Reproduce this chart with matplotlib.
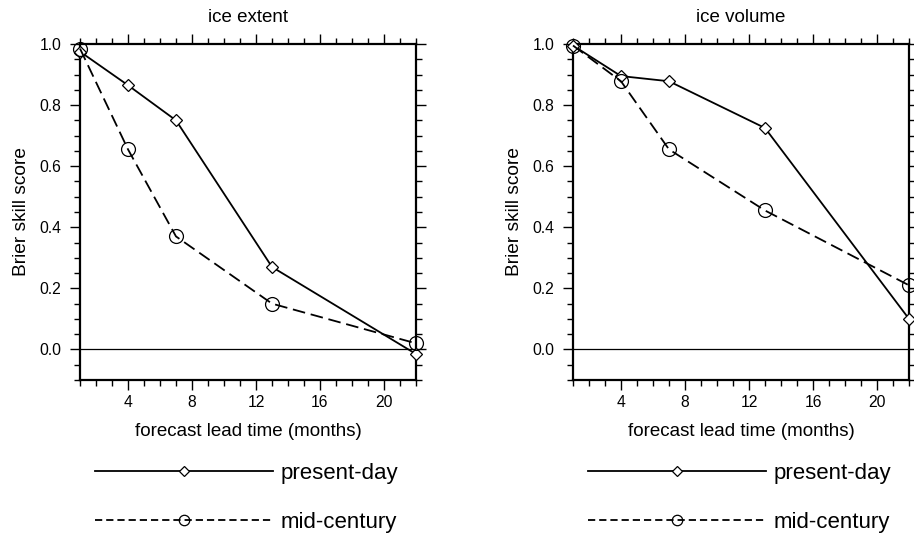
import matplotlib
matplotlib.use("Agg")
import matplotlib.pyplot as plt
from matplotlib.ticker import MultipleLocator, FixedLocator

plt.rcParams['font.family'] = ['Liberation Sans', 'DejaVu Sans']

lead_months = [1, 4, 7, 13, 22]
extent_present = [0.975, 0.865, 0.75, 0.27, -0.015]
extent_mid = [0.985, 0.655, 0.37, 0.15, 0.02]
volume_present = [0.995, 0.895, 0.878, 0.725, 0.10]
volume_mid = [0.995, 0.878, 0.655, 0.455, 0.21]

titles = ["ice extent", "ice volume"]
series_labels = ["present-day", "mid-century"]
x_ticks = [4, 8, 12, 16, 20]
y_ticks = [0.0, 0.2, 0.4, 0.6, 0.8, 1.0]

W, H = 914, 534
fig = plt.figure(figsize=(W / 100, H / 100), dpi=100)

panels = [
    (80, extent_present, extent_mid),
    (573, volume_present, volume_mid),
]

for i, (left_px, pres, mid) in enumerate(panels):
    ax = fig.add_axes([left_px / W, (H - 380) / H, 336 / W, 336 / H])
    ax.axhline(0, color='black', lw=0.9, zorder=1)
    l1, = ax.plot(lead_months, pres, color='black', lw=1.3, marker='D',
                  markersize=6.5, markerfacecolor='white', markeredgecolor='black',
                  markeredgewidth=0.9, clip_on=False, zorder=3)
    l2, = ax.plot(lead_months, mid, color='black', lw=1.3, ls=(0, (7.0, 3.2)),
                  marker='o', markersize=10, markerfacecolor='none',
                  markeredgecolor='black', markeredgewidth=0.9, clip_on=False, zorder=3)
    ax.set_xlim(1, 22)
    ax.set_ylim(-0.1, 1.0)
    ax.xaxis.set_major_locator(FixedLocator(x_ticks))
    ax.xaxis.set_minor_locator(MultipleLocator(1))
    ax.yaxis.set_major_locator(FixedLocator(y_ticks))
    ax.yaxis.set_minor_locator(MultipleLocator(0.05))
    ax.set_xticklabels([str(t) for t in x_ticks])
    ax.set_yticklabels([f"{t:.1f}" for t in y_ticks])
    ax.tick_params(which='both', direction='out', top=True, right=True,
                   labeltop=False, labelright=False, width=1.0, labelsize=11.3)
    ax.tick_params(which='major', length=7)
    ax.tick_params(which='minor', length=4)
    ax.tick_params(axis='y', which='major', pad=6.5)
    ax.tick_params(axis='x', which='major', pad=4)
    for s in ax.spines.values():
        s.set_linewidth(1.6)
    ax.set_title(titles[i], fontsize=13.5, pad=16)
    ax.set_xlabel("forecast lead time (months)", fontsize=13.5, labelpad=9)
    ax.set_ylabel("Brier skill score", fontsize=13.8, labelpad=7)

    leg = fig.legend([l1, l2], series_labels, loc='upper left',
                     bbox_to_anchor=((left_px + 15) / W, (H - 463) / H),
                     frameon=False, fontsize=16, handlelength=8.0,
                     handletextpad=0.35, labelspacing=1.25, borderpad=0,
                     borderaxespad=0, numpoints=1, markerscale=0.75)
    leg_lines = leg.get_lines()
    for line in leg_lines:
        line.set_linewidth(1.3)
    leg_lines[1].set_dashes((4.0, 2.2))

fig.savefig("out.png", dpi=100)
